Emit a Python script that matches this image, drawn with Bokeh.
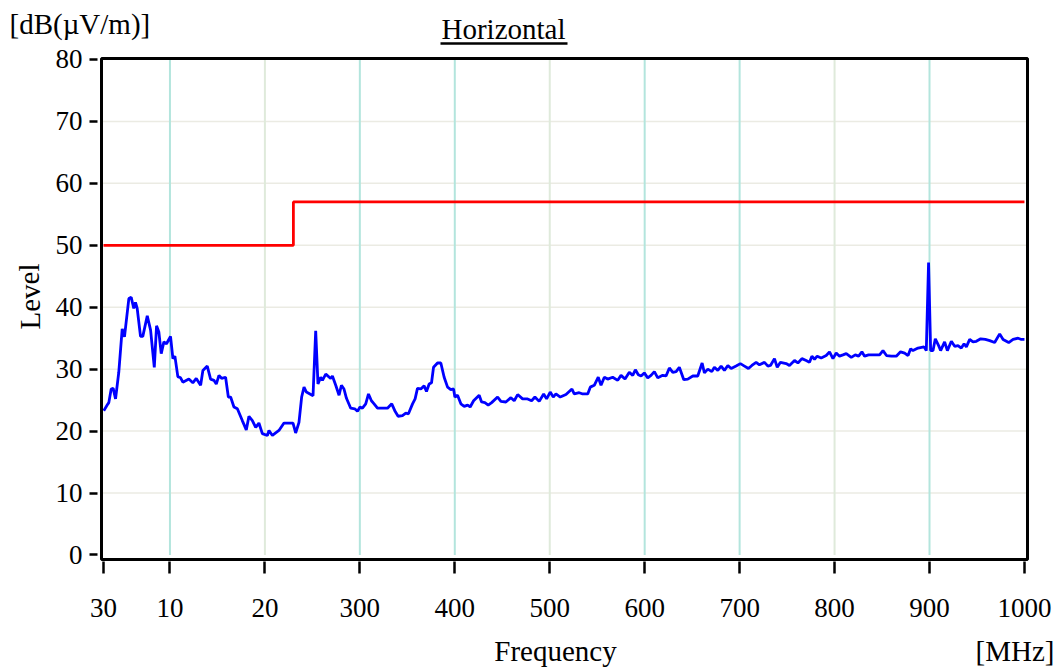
from bokeh.plotting import figure
from bokeh.models import Range1d, FixedTicker, Label, Arrow, BoxAnnotation
from bokeh.embed import file_html
from bokeh.resources import INLINE

# ---------------- data ----------------
freq = [30.3, 33.9, 35.6, 38.1, 40.2, 42.7, 46.1, 49.7, 52.1, 56.7, 59.2, 61.9, 63.7, 65.5, 69.0,
        71.4, 76.1, 79.6, 83.5, 85.9, 88.3, 90.8, 93.6, 96.4, 100.6, 103.1, 105.2, 108.3, 111.2,
        113.6, 119.9, 124.1, 127.7, 132.3, 134.7, 139.3, 142.8, 146.3, 148.8, 151.6, 154.4, 158.6,
        161.5, 163.9, 167.4, 171.0, 176.2, 180.4, 183.2, 186.8, 190.3, 193.7, 197.3, 202.6, 204.3,
        207.9, 211.3, 214.8, 220.1, 225.4, 229.6, 232.4, 235.9, 238.7, 241.2, 243.7, 250.7, 253.5,
        255.9, 258.8, 260.6, 264.1, 269.3, 271.1, 274.6, 278.1, 280.6, 283.3, 285.9, 290.4, 294.6,
        297.5, 300.2, 302.7, 306.2, 309.1, 312.2, 315.0, 318.6, 329.1, 333.6, 336.8, 340.3, 344.9,
        348.4, 351.2, 355.5, 358.2, 360.7, 364.2, 367.7, 370.2, 373.0, 375.5, 377.6, 381.8, 385.3,
        388.8, 392.4, 395.8, 398.7, 400.1, 402.9, 406.4, 409.9, 413.5, 416.2, 419.8, 425.7, 428.2,
        431.7, 435.2, 438.8, 445.1, 448.6, 453.8, 459.1, 462.6, 466.2, 471.4, 476.7, 480.9, 484.4,
        488.9, 493.6, 496.7, 500.5, 503.7, 506.5, 511.1, 517.1, 523.4, 525.8, 531.1, 534.7, 540.0,
        542.7, 546.9, 551.1, 554.0, 557.5, 561.0, 566.3, 571.6, 575.1, 579.3, 583.8, 587.4, 590.2,
        593.3, 596.2, 599.6, 603.2, 606.7, 610.2, 613.8, 619.0, 622.5, 626.0, 629.6, 633.1, 636.5,
        641.2, 645.4, 650.7, 655.9, 660.5, 662.9, 666.5, 670.7, 673.4, 677.0, 680.5, 684.0, 687.6,
        691.1, 696.3, 700.8, 705.1, 709.3, 712.9, 717.4, 720.9, 726.2, 729.8, 732.5, 736.7, 739.6,
        743.0, 749.0, 752.5, 757.8, 761.4, 765.6, 770.1, 773.6, 776.1, 778.9, 781.7, 785.9, 791.2,
        794.7, 798.3, 801.7, 805.2, 808.8, 812.3, 817.6, 821.8, 825.3, 828.8, 831.6, 835.8, 840.4,
        843.9, 847.4, 851.0, 854.7, 859.8, 865.0, 869.5, 873.8, 877.4, 880.1, 882.6, 887.9, 894.2,
        896.6, 899.0, 901.2, 903.7, 906.1, 909.6, 911.7, 915.9, 918.8, 923.0, 926.5, 930.0, 933.5,
        936.4, 938.8, 942.3, 945.8, 949.3, 953.9, 958.8, 963.4, 968.6, 973.9, 977.5, 983.4, 988.0,
        993.3, 996.8, 1000.0]
level = [23.3, 24.2, 24.6, 26.8, 26.9, 25.2, 29.5, 36.5, 35.2, 41.4, 41.6, 39.8, 40.8, 39.8, 35.3,
         35.3, 38.6, 36.3, 30.3, 37.0, 36.0, 32.5, 34.4, 34.1, 35.3, 31.7, 32.1, 28.8, 28.6,
         27.9, 28.4, 27.8, 28.5, 27.4, 29.8, 30.5, 28.4, 28.2, 27.6, 29.0, 28.5, 28.7,
         25.5, 25.5, 23.9, 23.6, 21.7, 20.2, 22.4, 21.7, 20.6, 21.3, 19.6, 19.3, 20.1,
         19.3, 19.7, 20.1, 21.3, 21.3, 21.3, 19.7, 21.4, 25.5, 27.1, 26.3, 25.7, 36.2,
         27.6, 28.7, 28.2, 29.2, 28.5, 28.9, 27.4, 25.8, 27.4, 26.8, 25.3, 23.7, 23.6,
         23.2, 23.9, 23.7, 24.4, 26.0, 24.9, 24.4, 23.7, 23.7, 24.4, 23.3, 22.4, 22.5,
         22.9, 22.8, 24.4, 25.2, 26.9, 26.8, 27.3, 26.4, 27.6, 27.8, 30.3, 31.0, 31.0,
         28.7, 27.1, 26.7, 26.8, 25.5, 25.8, 24.4, 24.0, 24.2, 23.9, 24.9, 25.8, 24.7,
         24.6, 24.2, 24.6, 25.5, 24.8, 24.7, 25.4, 24.9, 25.9, 25.2, 25.2, 24.9, 25.5,
         24.8, 26.0, 25.2, 26.3, 25.5, 26.0, 25.5, 25.9, 26.8, 26.0, 26.2, 26.0, 26.0,
         27.1, 27.4, 28.7, 27.4, 28.7, 28.4, 28.7, 28.2, 29.0, 28.4, 29.5, 29.0, 29.9,
         29.1, 28.9, 29.4, 28.6, 29.0, 29.6, 28.6, 29.0, 28.9, 30.2, 29.5, 29.6, 30.3,
         28.3, 28.4, 28.9, 28.9, 31.0, 29.4, 30.0, 29.6, 30.3, 29.8, 30.5, 29.8, 30.6,
         30.1, 30.5, 30.9, 30.5, 30.1, 30.6, 31.1, 30.7, 31.1, 30.5, 30.6, 31.7, 30.3,
         31.1, 30.9, 30.6, 31.4, 31.0, 31.7, 31.4, 31.1, 32.1, 31.6, 32.1, 31.8, 32.2,
         32.8, 31.7, 32.6, 32.1, 32.3, 32.5, 31.9, 32.3, 32.1, 32.8, 32.1, 32.3, 32.3,
         32.3, 32.3, 33.0, 32.2, 32.1, 32.1, 32.8, 32.6, 32.2, 33.3, 33.0, 33.4, 33.6,
         33.0, 47.2, 33.0, 33.0, 34.9, 33.8, 33.0, 34.4, 33.0, 34.5, 33.7, 33.8, 33.4,
         34.1, 33.6, 34.8, 34.4, 34.5, 34.9, 34.8, 34.6, 34.3, 35.7, 34.8, 34.3, 34.8,
         35.0, 34.8, 34.8]

limit_freq = [30, 230, 230, 1000]
limit_level = [50, 50, 57, 57]

x_ticks = [30, 100, 200, 300, 400, 500, 600, 700, 800, 900, 1000]
x_tick_labels = ["30", "10", "20", "300", "400", "500", "600", "700", "800", "900", "1000"]
y_ticks = [0, 10, 20, 30, 40, 50, 60, 70, 80]
y_grid = [10, 20, 30, 40, 50, 60, 70]
grid_cyan = [100, 300, 400, 600, 700, 900]
grid_pale = [200, 500, 800]

title_text = "Horizontal"
y_unit_text = "[dB(\u00b5V/m)]"
y_label_text = "Level"
x_label_text = "Frequency"
x_unit_text = "[MHz]"

# ---------------- geometry ----------------
FONT = "Liberation Serif"
X0, X1 = 27.9, 1003.2          # data extent of the drawn plot box
Y0, Y1 = -0.73, 80.16
W, H = 1059, 667
FL, FR, FT, FB = 101, 1027, 58, 559   # plot box edges in canvas pixels
KX = (X1 - X0) / (FR - FL)
KY = (Y1 - Y0) / (FB - FT)
XS, XE = X0 - FL * KX, X1 + (W - FR) * KX
YS, YE = Y0 - (H - FB) * KY, Y1 + FT * KY

def px2x(px):
    return XS + px * KX
def px2y(py):
    return YE - py * KY

p = figure(width=W, height=H, output_backend="svg", toolbar_location=None,
           x_range=Range1d(XS, XE), y_range=Range1d(YS, YE),
           min_border_left=0, min_border_right=0, min_border_top=0, min_border_bottom=0)
p.title.visible = False
p.background_fill_color = "white"
p.border_fill_color = "white"
p.outline_line_color = None
p.xgrid.visible = False
p.ygrid.visible = False

# grid lines confined to the plot box
n = len(y_grid)
p.segment(x0=[X0] * n, x1=[X1] * n, y0=y_grid, y1=y_grid, line_color="#ebebe3", line_width=1.5)
n = len(grid_cyan)
p.segment(x0=grid_cyan, x1=grid_cyan, y0=[0.0] * n, y1=[Y1] * n, line_color="#b3e5dd", line_width=2)
n = len(grid_pale)
p.segment(x0=grid_pale, x1=grid_pale, y0=[0.0] * n, y1=[Y1] * n, line_color="#dfeadb", line_width=2)

# axes fixed at the plot box edges
p.xaxis.fixed_location = Y0
p.yaxis.fixed_location = X0
p.xaxis.ticker = FixedTicker(ticks=x_ticks)
p.xaxis.major_label_overrides = {t: l for t, l in zip(x_ticks, x_tick_labels)}
p.yaxis.ticker = FixedTicker(ticks=y_ticks)
for ax in (p.xaxis, p.yaxis):
    ax.axis_line_color = None
    ax.minor_tick_line_color = None
    ax.major_tick_line_color = "black"
    ax.major_tick_line_width = 2.5
    ax.major_label_text_font = FONT
    ax.major_label_text_font_size = "27px"
    ax.major_label_text_color = "black"
p.xaxis.major_tick_in = -2
p.xaxis.major_tick_out = 14
p.xaxis.major_label_standoff = 25
p.yaxis.major_tick_in = -4
p.yaxis.major_tick_out = 12
p.yaxis.major_label_standoff = 7

# data
p.line(limit_freq, limit_level, line_color="#ff0000", line_width=2.8)
p.line(freq, level, line_color="#0000ff", line_width=2.8)

# plot box
p.add_layout(BoxAnnotation(left=X0, right=X1, bottom=Y0, top=Y1, fill_alpha=0,
                           line_color="black", line_alpha=1.0, line_width=3, level="overlay"))

# texts (py is the text's reference line in canvas pixels)
def add_label(text, px, py, align="left", baseline="alphabetic", angle=0, size="29px"):
    p.add_layout(Label(x=px2x(px), y=px2y(py), text=text, text_font=FONT, text_font_size=size,
                       text_align=align, text_baseline=baseline, angle=angle, text_color="black"))

add_label(y_unit_text, 9, 23)
add_label(title_text, 503, 28, align="center")
p.add_layout(Arrow(start=None, end=None, x_start=px2x(440), y_start=px2y(43), x_end=px2x(567),
                   y_end=px2y(43), line_color="black", line_width=2.5))
add_label(y_label_text, 29, 296, align="center", baseline="middle", angle=1.5708)
add_label(x_label_text, 555, 650, align="center")
add_label(x_unit_text, 1054, 650, align="right")

open("out.html", "w").write(file_html(p, INLINE))
